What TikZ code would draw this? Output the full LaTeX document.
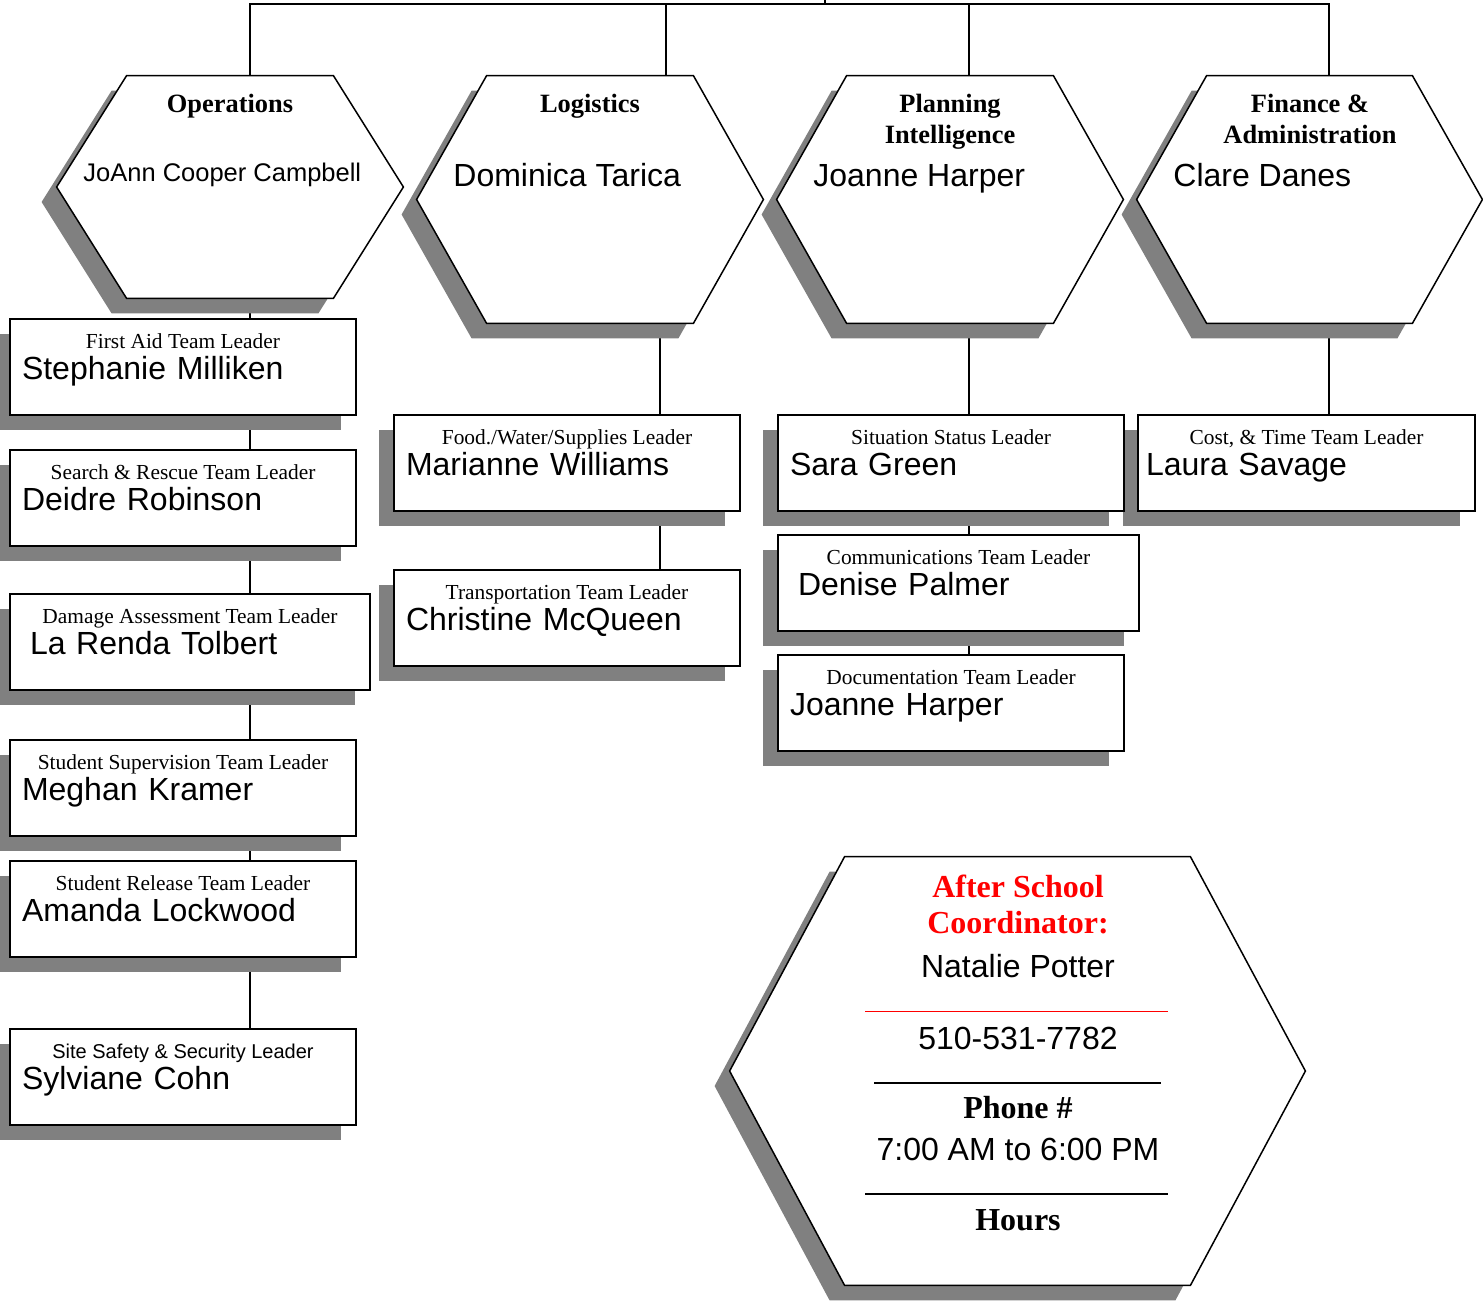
\documentclass[tikz,border=0pt]{standalone}
\usepackage{fontspec}
\setmainfont{Liberation Serif}
\setsansfont{Liberation Sans}
\usetikzlibrary{shadows,backgrounds}
\definecolor{shade}{RGB}{128,128,128}
\definecolor{alarm}{RGB}{255,0,0}
\tikzset{%
    sheet/.style={drop shadow={shadow xshift=-7.5pt,shadow yshift=-7.5pt,fill=shade,opacity=1}},
    hexpath/.style 2 args={insert path={%
        ([xshift=#2]#1.north west) -- ([xshift=-#2]#1.north east) -- (#1.east)
        -- ([xshift=-#2]#1.south east) -- ([xshift=#2]#1.south west) -- (#1.west) -- cycle}},
    role/.style={label={[label distance=-15pt,anchor=base,inner sep=0pt,
        font=\rmfamily\fontsize{10.7}{12}\selectfont]90:{#1}}},
    sfrole/.style={label={[label distance=-15pt,anchor=base,inner sep=0pt,
        font=\sffamily\fontsize{10}{12}\selectfont]90:{#1}}}
}

\begin{document}
\begin{tikzpicture}[x=0.5pt,y=-0.5pt,
  link/.style={line width=0.75pt,line cap=rect},
  hexagon/.style={draw,fill=white,line width=0.75pt,sheet},
  hexbox/.style 2 args={minimum width=#1,minimum height=#2,inner sep=0pt},
  head/.style={anchor=base,inner sep=0pt,font=\rmfamily\bfseries\fontsize{13.2}{15}\selectfont},
  who/.style={anchor=base west,inner sep=0pt,font=\sffamily\fontsize{16}{19}\selectfont},
  leader/.style={draw,fill=white,line width=1pt,sheet,anchor=north west,align=left,
    inner ysep=0pt,inner xsep=6pt,text width=161pt,text height=30pt,text depth=18pt,
    font=\sffamily\fontsize{16}{19}\selectfont},
  note/.style={anchor=base,inner sep=0pt,font=\sffamily\fontsize{16}{19}\selectfont},
  callout/.style={anchor=base,inner sep=0pt,font=\rmfamily\bfseries\fontsize{16}{19}\selectfont}]
  \useasboundingbox (0,0) rectangle (1483,1302);

  \coordinate (hub) at (825,4);
  \coordinate (chief) at (825,-20);
  \coordinate (opsx) at (250,4);
  \coordinate (logx) at (666,4);
  \coordinate (logy) at (660,4);
  \coordinate (planx) at (969,4);
  \coordinate (finx) at (1329,4);

  \node[hexbox={173pt}{111pt}] (ops) at (230,187) {};
  \node[hexbox={173pt}{123.5pt}] (log) at (590,199.5) {};
  \node[hexbox={173pt}{123.5pt}] (plan) at (950,199.5) {};
  \node[hexbox={172.5pt}{123.5pt}] (fin) at (1309.5,199.5) {};
  \node[hexbox={287.5pt}{214pt}] (info) at (1017.5,1071) {};

  \node[head] (opshead) at (230,112) {Operations};
  \node[who,font=\sffamily\fontsize{12.75}{15}\selectfont] (opsname) at (83,181) {JoAnn Cooper Campbell};
  \node[head] (loghead) at (590,112) {Logistics};
  \node[who] (logname) at (453,186) {Dominica Tarica};
  \node[head] (planhead) at (950,112) {Planning};
  \node[head] (plansub) at (950,143) {Intelligence};
  \node[who] (planname) at (813,186) {Joanne Harper};
  \node[head] (finhead) at (1310,112) {Finance \&};
  \node[head] (finsub) at (1310,143) {Administration};
  \node[who] (finname) at (1173,186) {Clare Danes};

  \node[leader,role={First Aid Team Leader}] (aid) at (9,318) {Stephanie Milliken};
  \node[leader,role={Search \& Rescue Team Leader}] (rescue) at (9,449) {Deidre Robinson};
  \node[leader,text width=168pt,role={Damage Assessment Team Leader}] (damage) at (9,593) {\hspace*{4pt}La Renda Tolbert};
  \node[leader,role={Student Supervision Team Leader}] (super) at (9,739) {Meghan Kramer};
  \node[leader,role={Student Release Team Leader}] (release) at (9,860) {Amanda Lockwood};
  \node[leader,sfrole={Site Safety \& Security Leader}] (safety) at (9,1028) {Sylviane Cohn};

  \node[leader,role={Food./Water/Supplies Leader}] (food) at (393,414) {Marianne Williams};
  \node[leader,role={Transportation Team Leader}] (trans) at (393,569) {Christine McQueen};

  \node[leader,inner xsep=4pt,text width=160.5pt,role={Cost, \& Time Team Leader}] (cost) at (1137,414) {Laura Savage};
  \node[leader,role={Situation Status Leader}] (sit) at (777,414) {Sara Green};
  \node[leader,text width=168.5pt,role={Communications Team Leader}] (comm) at (777,534) {\hspace*{4pt}Denise Palmer};
  \node[leader,role={Documentation Team Leader}] (docu) at (777,654) {Joanne Harper};

  \node[callout,text=alarm] (after) at (1018,897) {After School};
  \node[callout,text=alarm] (coord) at (1018,933) {Coordinator:};
  \node[note] (natalie) at (1018,977) {Natalie Potter};
  \node[note] (number) at (1018,1049) {510-531-7782};
  \node[callout] (phonecap) at (1018,1118) {Phone \#};
  \node[note] (time) at (1018,1160) {7:00 AM to 6:00 PM};
  \node[callout] (hourcap) at (1018,1230) {Hours};
  \draw[alarm,line width=0.4pt] (865,1011) -- (1168,1011);
  \draw[line width=0.6pt] (874,1083) -- (1161,1083);
  \draw[line width=0.6pt] (865,1194) -- (1168,1194);

  \begin{scope}[on background layer]
    \path[link] (hub) edge (chief) (opsx) edge (finx)
      (opsx) edge (opsx |- safety.north)
      (logx) edge (logx |- log.north)
      (logy |- log.center) edge (logy |- trans.north)
      (planx) edge (planx |- docu.north)
      (finx) edge (finx |- cost.north);
    \path[hexagon] [hexpath={ops}{35pt}];
    \path[hexagon] [hexpath={log}{35pt}];
    \path[hexagon] [hexpath={plan}{35pt}];
    \path[hexagon] [hexpath={fin}{35pt}];
    \path[hexagon] [hexpath={info}{57.5pt}];
  \end{scope}
\end{tikzpicture}
\end{document}
